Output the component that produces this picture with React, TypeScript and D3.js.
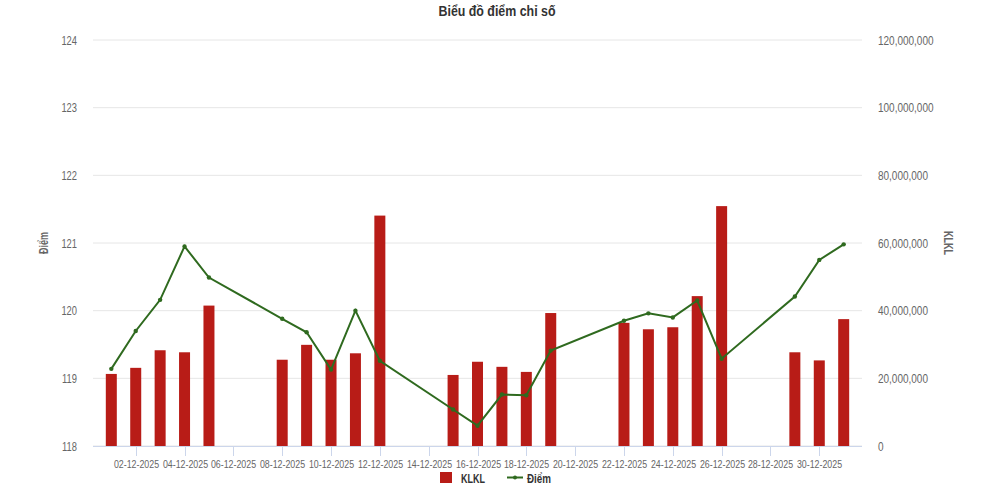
import React from "react";
import * as d3 from "d3";

const dates = [
  "01-12-2025", "02-12-2025", "03-12-2025", "04-12-2025", "05-12-2025",
  "08-12-2025", "09-12-2025", "10-12-2025", "11-12-2025", "12-12-2025",
  "15-12-2025", "16-12-2025", "17-12-2025", "18-12-2025", "19-12-2025",
  "22-12-2025", "23-12-2025", "24-12-2025", "25-12-2025", "26-12-2025",
  "29-12-2025", "30-12-2025", "31-12-2025",
];
const klkl = [
  21.3e6, 23.1e6, 28.3e6, 27.7e6, 41.5e6,
  25.5e6, 29.9e6, 25.5e6, 27.4e6, 68.1e6,
  21.0e6, 24.9e6, 23.4e6, 21.9e6, 39.3e6,
  36.4e6, 34.5e6, 35.1e6, 44.3e6, 70.9e6,
  27.7e6, 25.3e6, 37.5e6,
];
const diem = [
  119.14, 119.70, 120.16, 120.95, 120.49,
  119.88, 119.68, 119.13, 120.0, 119.26,
  118.54, 118.30, 118.76, 118.75, 119.41,
  119.85, 119.96, 119.90, 120.15, 119.29,
  120.21, 120.75, 120.98,
];
const leftTicks = [118, 119, 120, 121, 122, 123, 124];
const rightTicks = [0, 20e6, 40e6, 60e6, 80e6, 100e6, 120e6];
const xTickDays = d3.range(2, 31, 2);

const title = "Biểu đồ điểm chỉ số";
const FONT = "'Liberation Sans', Arial, sans-serif";
const RED = "#b81c17";
const GREEN = "#2f6a1f";

function T(props: any) {
  const { x, y, sx = 0.8, rot = 0, children, ...rest } = props;
  return (
    <text transform={`translate(${x},${y}) rotate(${rot}) scale(${sx},1)`} {...rest}>
      {children}
    </text>
  );
}

export default function App() {
  const parse = d3.utcParse("%d-%m-%Y");
  const day = 864e5;
  const start = Date.UTC(2025, 11, 1);
  const end = Date.UTC(2025, 11, 31);
  const x = d3.scaleUtc()
    .domain([new Date(start - 0.75 * day), new Date(end + 0.75 * day)])
    .range([93, 862]);
  const yL = d3.scaleLinear().domain([118, 124]).range([446, 40]);
  const yR = d3.scaleLinear().domain([0, 120e6]).range([446, 40]);
  const fmt = d3.format(",");
  const tfmt = d3.utcFormat("%d-%m-%Y");
  const pts = dates.map((d, i) => ({ t: parse(d)!, v: klkl[i], p: diem[i] }));
  const bw = 11;
  const line = d3.line<any>().x((d) => x(d.t)).y((d) => yL(d.p));

  return (
    <svg width={1000} height={489} style={{ position: "absolute", left: 0, top: 0 }} fontFamily={FONT}>
      <rect width={1000} height={489} fill="#fff" />
      <text x={497} y={16} textAnchor="middle" fontSize={15} fontWeight="bold" fill="#333"
        textLength={117} lengthAdjust="spacingAndGlyphs">{title}</text>
      {leftTicks.map((t) => (
        <g key={t}>
          <line x1={93} x2={862} y1={yL(t)} y2={yL(t)} stroke="#e6e6e6" />
          <T x={77} y={yL(t) + 4.5} sx={0.72} textAnchor="end" fontSize={13} fill="#666">{t}</T>
        </g>
      ))}
      {rightTicks.map((t) => (
        <T key={t} x={878} y={yR(t) + 4.5} sx={0.8} fontSize={12.5} fill="#666">{fmt(t)}</T>
      ))}
      <T x={48} y={243} rot={-90} sx={0.75} textAnchor="middle" fontSize={12} fontWeight="bold" fill="#666">Điểm</T>
      <T x={944} y={243} rot={90} sx={0.75} textAnchor="middle" fontSize={12} fontWeight="bold" fill="#666">KLKL</T>
      <line x1={93} x2={862} y1={446.5} y2={446.5} stroke="#ccd6eb" />
      {xTickDays.map((dd) => {
        const t = new Date(Date.UTC(2025, 11, dd));
        const xx = Math.round(x(t)) + 0.5;
        return (
          <g key={dd}>
            <line x1={xx} x2={xx} y1={446} y2={456} stroke="#ccd6eb" />
            <T x={xx} y={467.5} sx={0.75} textAnchor="middle" fontSize={11.8} fill="#666">{tfmt(t)}</T>
          </g>
        );
      })}
      {pts.map((d, i) => (
        <rect key={i} x={x(d.t) - bw / 2} y={yR(d.v)} width={bw} height={yR(0) - yR(d.v)} fill={RED} />
      ))}
      <path d={line(pts) || ""} fill="none" stroke={GREEN} strokeWidth={2} />
      {pts.map((d, i) => (
        <circle key={i} cx={x(d.t)} cy={yL(d.p)} r={2.2} fill={GREEN} />
      ))}
      <rect x={440} y={472} width={12} height={11} fill={RED} />
      <T x={461} y={482.5} sx={0.75} fontSize={12} fontWeight="bold" fill="#333">KLKL</T>
      <line x1={507} x2={523} y1={477.5} y2={477.5} stroke={GREEN} strokeWidth={2} />
      <circle cx={515} cy={477.5} r={2} fill={GREEN} />
      <T x={527} y={482.5} sx={0.82} fontSize={12} fontWeight="bold" fill="#333">Điểm</T>
    </svg>
  );
}
